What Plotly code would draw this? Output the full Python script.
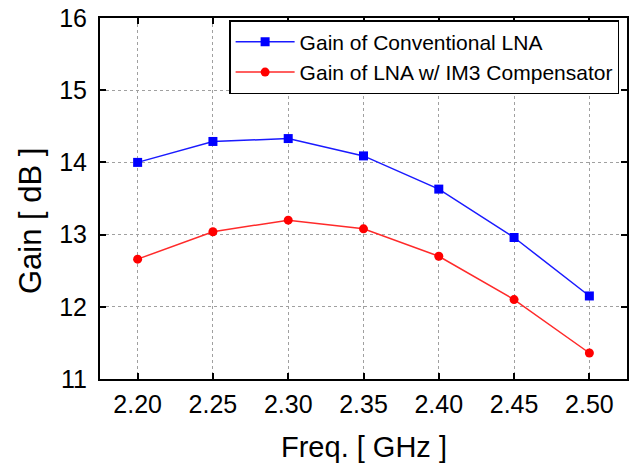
import plotly.graph_objects as go

freq = [2.20, 2.25, 2.30, 2.35, 2.40, 2.45, 2.50]
gain_conv = [14.00, 14.29, 14.33, 14.09, 13.63, 12.96, 12.15]
gain_comp = [12.66, 13.04, 13.20, 13.08, 12.70, 12.10, 11.36]
x_ticks = [2.20, 2.25, 2.30, 2.35, 2.40, 2.45, 2.50]
x_tick_labels = ["2.20", "2.25", "2.30", "2.35", "2.40", "2.45", "2.50"]
y_ticks = [11, 12, 13, 14, 15, 16]

FONT = "Arial, Liberation Sans, sans-serif"

fig = go.Figure()
fig.add_trace(go.Scatter(
    x=freq, y=gain_conv, mode="lines+markers",
    name="Gain of Conventional LNA",
    line=dict(color="#1a1aff", width=1.5),
    marker=dict(symbol="square", size=9, color="#0000ff"),
))
fig.add_trace(go.Scatter(
    x=freq, y=gain_comp, mode="lines+markers",
    name="Gain of LNA w/ IM3 Compensator",
    line=dict(color="#ff2a2a", width=1.5),
    marker=dict(symbol="circle", size=9, color="#ff0000"),
))

axis_common = dict(
    showline=True, linecolor="black", linewidth=2, mirror="ticks",
    ticks="inside", ticklen=6, tickwidth=2, tickcolor="black",
    showgrid=True, gridcolor="#a0a0a0", griddash="dot", gridwidth=1,
    zeroline=False, automargin=False,
    tickfont=dict(family=FONT, size=25, color="black"),
)

fig.update_xaxes(
    range=[2.175, 2.525], tickvals=x_ticks, ticktext=x_tick_labels,
    ticklabelstandoff=2,
    **axis_common,
)
fig.update_yaxes(
    range=[11, 16], tickvals=y_ticks,
    ticklabelstandoff=6,
    **axis_common,
)

fig.add_annotation(
    text="Freq. [ GHz ]", xref="paper", yref="paper", x=0.5, y=0,
    xanchor="center", yanchor="middle", yshift=-68, xshift=0,
    showarrow=False, font=dict(family=FONT, size=29, color="black"),
)
fig.add_annotation(
    text="Gain [ dB ]", xref="paper", yref="paper", x=0, y=0.4377,
    xanchor="center", yanchor="middle", xshift=-69, textangle=-90,
    showarrow=False, font=dict(family=FONT, size=31, color="black"),
)

fig.update_layout(
    width=643, height=471,
    margin=dict(l=100, r=16, t=18, b=92, autoexpand=False),
    paper_bgcolor="white", plot_bgcolor="white",
    showlegend=True,
    legend=dict(
        x=0.245, y=0.994, xanchor="left", yanchor="top",
        bgcolor="white", bordercolor="black", borderwidth=1.5,
        font=dict(family=FONT, size=21, color="black"),
        tracegroupgap=0, itemwidth=59,
    ),
)

fig.write_html(
    "out.html",
    config={"displayModeBar": False},
    post_script="document.body.style.margin='0';document.body.style.padding='0';",
)
